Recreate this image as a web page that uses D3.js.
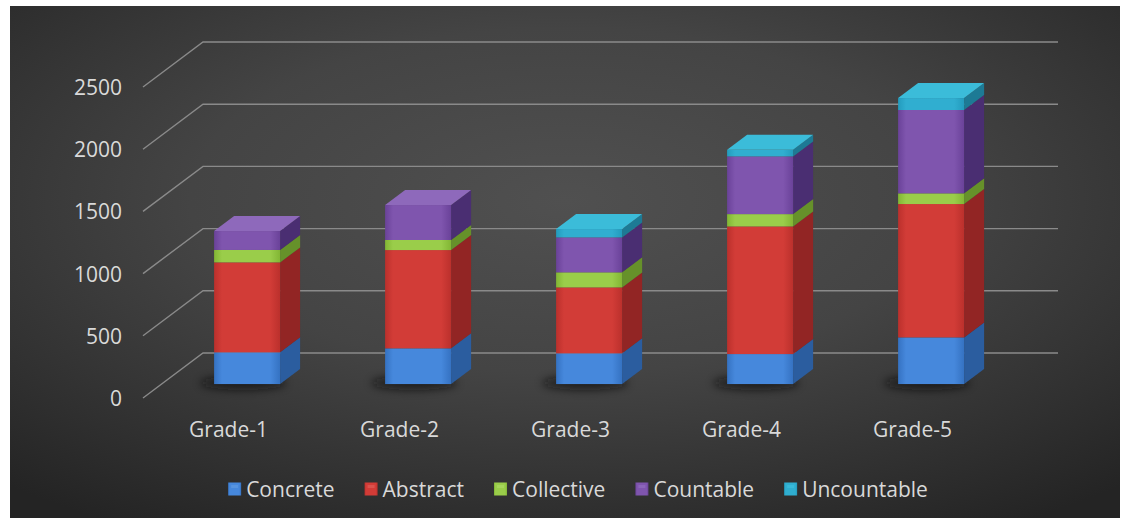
<!DOCTYPE html>
<html>
<head>
<meta charset="utf-8">
<script src="https://cdn.jsdelivr.net/npm/d3@7"></script>
<style>
  html, body { margin: 0; padding: 0; background: #ffffff; }
  svg { display: block; }
  text { font-family: "Open Sans", "DejaVu Sans", sans-serif; fill: #d9d9d9; }
</style>
</head>
<body>
<svg id="chart" width="1132" height="523"></svg>
<script>
// ---- data ----
const categories = ["Grade-1", "Grade-2", "Grade-3", "Grade-4", "Grade-5"];
const seriesNames = ["Concrete", "Abstract", "Collective", "Countable", "Uncountable"];
const concrete    = [255, 287, 247, 241, 375];
const abstract    = [723, 790, 530, 1026, 1072];
const collective  = [100, 81, 121, 99, 86];
const countable   = [152, 281, 281, 464, 670];
const uncountable = [0, 0, 67, 53, 96];
const yTicks = [0, 500, 1000, 1500, 2000, 2500];

// colours: front, side, top
const palette = {
  Concrete:    { front: ["#4688dc", "#3572c2"], side: "#2b5d9f", top: "#5b97e0" },
  Abstract:    { front: ["#d23c37", "#bb302c"], side: "#922524", top: "#dc5752" },
  Collective:  { front: ["#9acd4a", "#82b634"], side: "#66912a", top: "#a9d85f" },
  Countable:   { front: ["#7f55ae", "#6a4299"], side: "#4a2e72", top: "#8e69bb" },
  Uncountable: { front: ["#30aed0", "#239bbd"], side: "#1d7a95", top: "#3bbcd9" }
};

const table = categories.map((c, i) => ({
  category: c,
  Concrete: concrete[i], Abstract: abstract[i], Collective: collective[i],
  Countable: countable[i], Uncountable: uncountable[i]
}));

const svg = d3.select("#chart");
const defs = svg.append("defs");

// background gradient
const bg = defs.append("radialGradient").attr("id", "bg")
  .attr("cx", "50%").attr("cy", "38%").attr("r", "75%");
bg.append("stop").attr("offset", "0%").attr("stop-color", "#505050");
bg.append("stop").attr("offset", "45%").attr("stop-color", "#444444");
bg.append("stop").attr("offset", "100%").attr("stop-color", "#242424");

seriesNames.forEach((s, i) => {
  const g = defs.append("linearGradient").attr("id", "front" + i)
    .attr("x1", "0").attr("y1", "0").attr("x2", "1").attr("y2", "0");
  g.append("stop").attr("offset", "0%").attr("stop-color", palette[s].front[1]);
  g.append("stop").attr("offset", "12%").attr("stop-color", palette[s].front[0]);
  g.append("stop").attr("offset", "85%").attr("stop-color", palette[s].front[0]);
  g.append("stop").attr("offset", "100%").attr("stop-color", palette[s].front[1]);
});
defs.append("filter").attr("id", "blur").attr("x", "-50%").attr("y", "-200%")
  .attr("width", "200%").attr("height", "500%")
  .append("feGaussianBlur").attr("stdDeviation", 4);

svg.append("rect").attr("x", 10).attr("y", 6).attr("width", 1110).attr("height", 512)
  .attr("fill", "url(#bg)");

// ---- geometry ----
const floorY = 398;
const floorX0 = 143, floorX1 = 998;
const wallDX = 60, wallDY = -45;          // full depth of the floor
const barT = 0.31;                          // where the bar front sits in depth
const barDX = 20, barDY = -15;              // bar depth
const wallRight = 1058;

const yH = d3.scaleLinear().domain([0, 2500]).range([0, 311]);
const xb = d3.scaleBand().domain(categories).range([floorX0, floorX1]).padding(0);
const barW = 66;

// gridlines
const grid = svg.append("g");
yTicks.forEach(v => {
  const yf = floorY - yH(v);
  grid.append("path")
    .attr("d", `M${floorX0},${yf} L${floorX0 + wallDX},${yf + wallDY} L${wallRight},${yf + wallDY}`)
    .attr("fill", "none").attr("stroke", "#8a8a8a").attr("stroke-width", 1.4);
  svg.append("text").attr("x", 122).attr("y", yf)
    .attr("text-anchor", "end").attr("dominant-baseline", "central")
    .attr("font-size", 21).text(v);
});

// category labels
categories.forEach(c => {
  svg.append("text").attr("x", xb(c) + xb.bandwidth() / 2).attr("y", 437)
    .attr("text-anchor", "middle").attr("font-size", 21).text(c);
});

// stacked bars
const stack = d3.stack().keys(seriesNames)(table);
const barsG = svg.append("g");

categories.forEach((c, ci) => {
  const fx = xb(c) + (xb.bandwidth() - barW) / 2 + wallDX * barT;
  const fy0 = floorY + wallDY * barT;
  // shadow
  barsG.append("ellipse")
    .attr("cx", fx + barW / 2 - 4).attr("cy", fy0 - 1)
    .attr("rx", barW * 0.65).attr("ry", 7)
    .attr("fill", "#0c0c0c").attr("opacity", 0.65).attr("filter", "url(#blur)");
  // find top non-empty series
  let topIdx = -1;
  stack.forEach((layer, si) => { if (layer[ci][1] - layer[ci][0] > 0) topIdx = si; });
  stack.forEach((layer, si) => {
    const [v0, v1] = layer[ci];
    if (v1 - v0 <= 0) return;
    const s = seriesNames[si];
    const yb = fy0 - yH(v0), yt = fy0 - yH(v1);
    // side face
    barsG.append("path")
      .attr("d", `M${fx + barW},${yb} L${fx + barW + barDX},${yb + barDY} L${fx + barW + barDX},${yt + barDY} L${fx + barW},${yt} Z`)
      .attr("fill", palette[s].side);
    // front face
    barsG.append("rect").attr("x", fx).attr("y", yt)
      .attr("width", barW).attr("height", yb - yt)
      .attr("fill", `url(#front${si})`);
    if (si === topIdx) {
      barsG.append("path")
        .attr("d", `M${fx},${yt} L${fx + barW},${yt} L${fx + barW + barDX},${yt + barDY} L${fx + barDX},${yt + barDY} Z`)
        .attr("fill", palette[s].top);
    }
  });
});

// legend
const legend = svg.append("g");
let lx = 0;
seriesNames.forEach((s, i) => {
  const g = legend.append("g");
  g.append("rect").attr("x", lx).attr("y", -6.5).attr("width", 13).attr("height", 13)
    .attr("fill", `url(#front${i})`);
  g.append("rect").attr("x", lx + 3).attr("y", -4).attr("width", 7).attr("height", 3)
    .attr("fill", palette[s].top).attr("opacity", 0.8);
  const t = g.append("text").attr("x", lx + 18).attr("y", 0)
    .attr("dominant-baseline", "central").attr("font-size", 21).text(s);
  const w = t.node().getComputedTextLength();
  lx += 18 + w + 30;
});
const totalW = lx - 30;
legend.attr("transform", `translate(${578 - totalW / 2},489)`);
</script>
</body>
</html>
